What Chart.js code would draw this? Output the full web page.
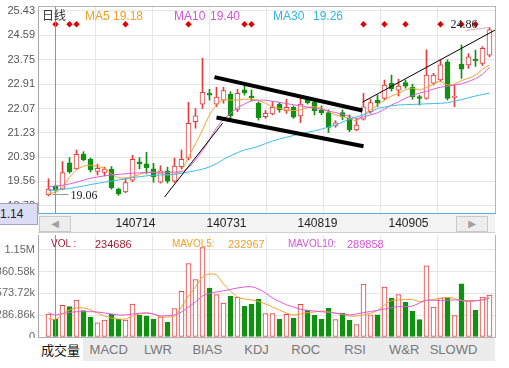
<!DOCTYPE html>
<html>
<head>
<meta charset="utf-8">
<title>日线</title>
<script src="https://cdn.jsdelivr.net/npm/chart.js@4.4.1/dist/chart.umd.min.js"></script>
<style>
body { margin: 0; background: #fff; font-family: "Liberation Sans", Arial, sans-serif; }
#wrap { position: relative; width: 509px; height: 368px; overflow: hidden; }
canvas { position: absolute; left: 0; z-index: 1; }
#price { top: 0; }
#vol { top: 233px; }
.t { position: absolute; z-index: 2; white-space: nowrap; font-size: 12px; line-height: 14px; }
.v { font-size: 10px; }
.n { font-size: 11px; }
#strip { position: absolute; left: 38px; top: 214px; width: 457px; height: 18px; background: #f3f3f3; border-bottom: 1px solid #cfcfcf; }
.btn { position: absolute; top: 216px; width: 30px; height: 14px; background: #ededed; border: 1px solid #c8c8c8; color: #a0a0a0; font-size: 10px; line-height: 14px; text-align: center; z-index: 2; font-family: "DejaVu Sans", sans-serif; }
#cur { position: absolute; left: -1px; top: 203px; width: 37px; height: 20px; background: #dcdcf6; border: 1px solid #9ea2c6; font-size: 12px; line-height: 20px; color: #222; z-index: 3; }
#tabs { position: absolute; left: 38px; top: 338px; width: 457px; height: 23px; background: #ececec; }
.tab { position: absolute; top: 338px; height: 23px; line-height: 23px; text-align: center; font-size: 13px; color: #777; z-index: 2; }
.tab.on { background: #fff; color: #111; font-family: "Noto Sans CJK SC", sans-serif; }
</style>
</head>
<body>
<div id="wrap">
  <div id="strip"></div>
  <canvas id="price" width="509" height="233"></canvas>
  <canvas id="vol" width="509" height="105"></canvas>
  <div id="tabs"></div>
  <div class="btn" style="left:39px">◀</div>
  <div class="btn" style="left:456px">▶</div>
  <div id="cur">1.14</div>

  <span class="t" style="left:42px;top:8px;color:#333;font-family:'Noto Sans CJK SC',sans-serif">日线</span>
  <span class="t" style="left:85px;top:9px;color:#f0a028">MA5</span>
  <span class="t" id="ma5v" style="left:113px;top:9px;color:#f0a028"></span>
  <span class="t" style="left:174px;top:9px;color:#d455d4">MA10</span>
  <span class="t" id="ma10v" style="left:210px;top:9px;color:#d455d4"></span>
  <span class="t" style="left:273px;top:9px;color:#35b5e0">MA30</span>
  <span class="t" id="ma30v" style="left:313px;top:9px;color:#35b5e0"></span>

  <span class="t v" style="left:51px;top:237px;color:#a01e32">VOL :</span>
  <span class="t n" id="volv" style="left:95px;top:237px;color:#a01e32"></span>
  <span class="t v" style="left:172px;top:237px;color:#f0a028">MAVOL5:</span>
  <span class="t n" id="mv5v" style="left:228px;top:237px;color:#f0a028"></span>
  <span class="t v" style="left:288px;top:237px;color:#d455d4">MAVOL10:</span>
  <span class="t n" id="mv10v" style="left:347px;top:237px;color:#d455d4"></span>
</div>

<script>
// daily candles, 64 trading days
const opens  = [19.09,19.39,19.29,20.20,19.99,20.49,20.32,19.90,19.87,19.98, 19.29,19.20,19.60,20.23,20.16,19.99,19.53,19.92,19.57,20.07,
                20.36,21.62,22.22,22.60,22.22,22.36,22.57,22.04,22.71,22.50, 22.25,21.79,21.88,22.22,21.99,22.11,21.81,22.39,22.30,22.02,
                21.93,21.47,21.93,21.73,21.33,21.70,21.96,22.36,22.42,22.94, 22.70,22.96,22.80,22.48,22.42,22.94,23.05,23.68,22.45,23.60,
                23.57,23.77,23.62,23.91];
const closes = [19.29,19.26,19.86,19.89,20.49,20.30,19.95,20.01,19.98,19.34, 19.13,19.52,20.32,20.17,20.03,19.72,19.92,19.57,20.09,20.32,
                21.56,21.82,22.63,22.53,22.46,22.69,21.82,22.59,22.61,22.44, 21.75,21.90,22.11,22.02,22.11,21.77,22.22,22.27,21.99,21.93,
                21.42,21.58,21.79,21.33,21.50,22.13,22.27,22.27,22.88,22.74, 22.84,22.84,22.48,22.42,23.22,23.22,23.57,22.42,22.50,23.42,
                23.85,23.71,24.14,24.78];
const highs  = [19.65,19.44,20.24,20.38,20.64,20.58,20.36,20.15,20.05,20.07, 19.33,19.68,20.46,20.38,20.56,20.18,20.10,20.05,20.36,20.64,
                22.28,22.07,23.80,22.73,22.80,22.80,22.65,22.73,22.84,22.71, 22.30,22.00,22.30,22.28,22.39,22.16,22.42,22.48,22.36,22.16,
                22.02,21.65,22.02,21.85,21.73,22.59,22.39,22.53,23.05,23.22, 23.08,23.05,22.91,22.53,24.09,23.28,23.74,23.74,22.88,24.26,
                23.96,24.08,24.20,24.86];
const lows   = [19.06,19.20,19.27,19.84,19.97,20.27,19.88,19.78,19.75,19.29, 19.08,19.17,19.54,19.99,19.82,19.53,19.50,19.50,19.52,20.00,
                20.30,21.39,22.07,22.36,22.13,22.25,21.67,21.96,22.53,22.34, 21.67,21.73,21.85,21.94,21.90,21.73,21.58,22.22,21.85,21.85,
                21.24,21.42,21.68,21.27,21.30,21.67,21.90,22.13,22.36,22.67, 22.50,22.77,22.39,22.19,22.39,22.88,22.99,22.36,22.13,23.11,
                23.45,23.52,23.55,23.85];
const volumes = [303000,234686,417000,399000,487000,346000,259000,188000,224000,303000, 233000,224000,434000,285000,276000,233000,267000,197000,373000,601000,
                 965000,754000,1175000,645000,557000,447000,535000,526000,404000,430000, 496000,307000,307000,233000,299000,250000,430000,351000,285000,233000,
                 382000,228000,316000,219000,162000,697000,293000,293000,658000,513000, 557000,456000,338000,228000,938000,395000,513000,513000,281000,701000,
                 469000,351000,526000,553000];

// moving averages as drawn
const ma5  = [19.15,19.18,19.35,19.70,19.95,20.08,20.12,20.07,20.01,19.82, 19.69,19.67,19.72,19.80,19.87,19.87,19.83,19.78,19.83,19.95,
              20.41,20.85,21.33,21.85,22.19,22.36,22.36,22.36,22.39,22.39, 22.34,22.25,22.13,22.08,22.02,22.00,22.02,22.11,22.13,22.08,
              21.96,21.85,21.79,21.73,21.65,21.85,22.02,22.19,22.36,22.50, 22.59,22.71,22.77,22.71,22.80,22.91,23.00,22.88,22.91,23.03,
              23.11,23.22,23.42,23.57];
const ma10 = [19.38,19.40,19.43,19.47,19.53,19.60,19.67,19.71,19.75,19.78, 19.80,19.82,19.84,19.85,19.87,19.87,19.87,19.87,19.88,19.89,
              20.03,20.30,20.62,21.00,21.40,21.70,21.90,22.10,22.22,22.33, 22.36,22.35,22.32,22.28,22.24,22.20,22.16,22.12,22.08,22.04,
              21.98,21.93,21.87,21.80,21.73,21.78,21.85,21.92,22.05,22.19, 22.30,22.42,22.52,22.60,22.66,22.74,22.80,22.84,22.88,22.92,
              23.00,23.10,23.25,23.49];
const ma30 = [19.24,19.26,19.29,19.31,19.36,19.40,19.45,19.49,19.53,19.57, 19.61,19.64,19.69,19.72,19.75,19.77,19.78,19.79,19.80,19.84,
              19.88,19.93,19.98,20.06,20.17,20.32,20.44,20.55,20.64,20.70, 20.77,20.86,20.95,21.02,21.08,21.14,21.20,21.25,21.30,21.36,
              21.43,21.50,21.60,21.70,21.78,21.85,21.95,22.07,22.12,22.16, 22.19,22.20,22.21,22.22,22.23,22.24,22.25,22.27,22.32,22.38,
              22.44,22.50,22.55,22.60];
const mavol5  = [240000,232967,303000,355000,382000,382000,355000,316000,276000,250000, 237000,237000,276000,303000,316000,303000,263000,263000,276000,395000,
                 540000,658000,790000,829000,816000,697000,605000,526000,500000,487000, 467000,434000,395000,355000,316000,290000,303000,320000,329000,342000,
                 329000,316000,296000,276000,276000,290000,312000,349000,421000,478000, 487000,492000,493000,467000,480000,493000,509000,522000,507000,480000,
                 467000,474000,493000,530000];
const mavol10 = [320000,289858,309000,322000,333000,333000,333000,329000,316000,303000, 290000,290000,303000,312000,316000,303000,276000,283000,290000,329000,
                 395000,461000,540000,572000,592000,609000,625000,645000,658000,662000, 632000,579000,513000,467000,424000,395000,364000,351000,342000,332000,
                 325000,312000,303000,290000,303000,320000,336000,351000,368000,386000, 399000,401000,408000,447000,484000,483000,480000,484000,487000,480000,
                 478000,478000,487000,509000];

// signal diamonds (candle index) and hand-drawn lines [x0, y0, x1, y1]
const diamondIdx = [1,3,4,11,20,28,29,45,48,51,56,59,61];
const markLevel = 24.97;
const thinLines  = [[16.57,19.02,24.86,21.56],[44.86,22.29,63.79,24.77]];
const thickLines = [[23.71,23.15,44.86,22.00],[24.0,21.76,45.0,20.77]];

// axes
const priceTicks = [18.72,19.56,20.39,21.23,22.07,22.91,23.75,24.59,25.43];
const volTicks = [0,286860,573720,860580,1147440];
const dateIdx = [12,25,38,51];
const dateText = ['140714','140731','140819','140905'];
const tabNames = ['成交量','MACD','LWR','BIAS','KDJ','ROC','RSI','W&R','SLOWD'];
const crossIdx = 1;

const upColor = '#e63c3c', downColor = '#119011';
const gridColor = '#e6e6e6';
const xMin = -1.5, xMax = 63.786;
const idx = opens.map((_, i) => i);
const isUp = i => closes[i] >= opens[i];
const pts = arr => arr.map((v, i) => ({x: i, y: v}));

document.getElementById('ma5v').textContent = ma5[crossIdx].toFixed(2);
document.getElementById('ma10v').textContent = ma10[crossIdx].toFixed(2);
document.getElementById('ma30v').textContent = ma30[crossIdx].toFixed(2);
document.getElementById('volv').textContent = volumes[crossIdx];
document.getElementById('mv5v').textContent = mavol5[crossIdx];
document.getElementById('mv10v').textContent = mavol10[crossIdx];

const wrap = document.getElementById('wrap');
tabNames.forEach((name, k) => {
  const d = document.createElement('div');
  d.className = 'tab' + (k === 0 ? ' on' : '');
  d.style.left = (k === 0 ? 38 : 35 + k * 49.25) + 'px';
  d.style.width = (k === 0 ? 45 : 49) + 'px';
  d.textContent = name;
  wrap.appendChild(d);
});

Chart.defaults.font.family = '"Liberation Sans", Arial, sans-serif';

function gridAxis(border) {
  return {
    type: 'linear', min: xMin, max: xMax, offset: false,
    afterBuildTicks: s => { s.ticks = [1,2,3,4,5,6,7].map(k => ({value: xMin + k * (xMax - xMin) / 8})); },
    afterFit: s => { s.height = 0; s.paddingLeft = 0; s.paddingRight = 0; },
    ticks: { display: false },
    grid: { color: gridColor, drawTicks: false, offset: false },
    border: border
  };
}

const frame = {
  id: 'frame',
  afterDatasetsDraw(chart) {
    const {ctx, chartArea: a} = chart;
    const cx = chart.scales.x.getPixelForValue(crossIdx);
    ctx.save();
    ctx.lineWidth = 1;
    ctx.strokeStyle = '#4da6dc';
    ctx.beginPath(); ctx.moveTo(cx, a.top); ctx.lineTo(cx, a.bottom); ctx.stroke();
    ctx.strokeStyle = '#b4b4b4';
    ctx.beginPath();
    if (chart.options.drawTop) { ctx.moveTo(a.left, a.top + 0.5); ctx.lineTo(a.right, a.top + 0.5); }
    ctx.moveTo(a.right + 0.5, a.top); ctx.lineTo(a.right + 0.5, a.bottom);
    ctx.stroke();
    ctx.restore();
  }
};

const extremes = {
  id: 'extremes',
  afterDatasetsDraw(chart) {
    const {ctx, scales: {x, y}} = chart;
    const lo = lows.indexOf(Math.min(...lows));
    const hi = highs.indexOf(Math.max(...highs));
    ctx.save();
    ctx.font = '12px "Liberation Serif", serif';
    ctx.fillStyle = '#222';
    ctx.lineWidth = 1;
    ctx.textBaseline = 'middle';
    let px = x.getPixelForValue(lo), py = Math.round(y.getPixelForValue(lows[lo]));
    ctx.strokeStyle = '#999';
    ctx.beginPath(); ctx.moveTo(px + 4, py - 1.5); ctx.lineTo(px + 20, py - 1.5); ctx.stroke();
    ctx.textAlign = 'left';
    ctx.fillText(lows[lo].toFixed(2), px + 22, py);
    px = x.getPixelForValue(hi); py = y.getPixelForValue(highs[hi]);
    ctx.strokeStyle = '#e0a8b4';
    ctx.beginPath(); ctx.moveTo(px - 24, py + 3); ctx.lineTo(px, py); ctx.stroke();
    ctx.textAlign = 'right';
    ctx.fillText(highs[hi].toFixed(2), px - 12, py - 3);
    ctx.restore();
  }
};

const lineSet = (arr, color) => ({
  type: 'line', data: pts(arr), borderColor: color, borderWidth: 1,
  pointRadius: 0, tension: 0.3, order: 3
});

new Chart(document.getElementById('price'), {
  type: 'bar',
  data: {
    datasets: [
      { type: 'bar', order: 6, grouped: false, barThickness: 1,
        data: idx.map(i => ({x: i, y: [lows[i], highs[i]]})),
        backgroundColor: idx.map(i => isUp(i) ? upColor : downColor), borderWidth: 0 },
      { type: 'bar', order: 5, grouped: false, barThickness: 5, minBarLength: 1,
        data: idx.map(i => ({x: i, y: [opens[i], closes[i]]})),
        backgroundColor: idx.map(i => isUp(i) ? '#fff' : downColor),
        borderColor: idx.map(i => isUp(i) ? upColor : downColor),
        borderWidth: 1, borderSkipped: false },
      lineSet(ma30, '#3dbbe6'),
      lineSet(ma10, '#dc5cdc'),
      lineSet(ma5, '#f2a230'),
      ...thickLines.map(l => ({ type: 'line', order: 2, data: [{x: l[0], y: l[1]}, {x: l[2], y: l[3]}],
        borderColor: '#000', borderWidth: 4, pointRadius: 0 })),
      ...thinLines.map(l => ({ type: 'line', order: 2, data: [{x: l[0], y: l[1]}, {x: l[2], y: l[3]}],
        borderColor: '#000', borderWidth: 1, pointRadius: 0 })),
      { type: 'line', order: 1, showLine: false, data: diamondIdx.map(i => ({x: i, y: markLevel})),
        pointStyle: 'rectRot', pointRadius: 3.2, pointBackgroundColor: '#e00000', pointBorderWidth: 0 }
    ]
  },
  options: {
    responsive: false, animation: false, devicePixelRatio: 1, events: [],
    drawTop: true,
    layout: { padding: { left: 0, right: 14, top: 6, bottom: 0 } },
    plugins: { legend: { display: false }, tooltip: { enabled: false } },
    scales: {
      x: gridAxis({ display: false }),
      xl: {
        type: 'linear', position: 'bottom', min: xMin, max: xMax, offset: false,
        afterBuildTicks: s => { s.ticks = dateIdx.map(v => ({value: v})); },
        afterFit: s => { s.height = 20; s.paddingLeft = 0; s.paddingRight = 0; },
        ticks: { callback: v => dateText[dateIdx.indexOf(v)], color: '#222', font: { size: 12 },
                 padding: 3, labelOffset: 3, autoSkip: false, maxRotation: 0 },
        grid: { display: false, drawTicks: false, offset: false },
        border: { display: true, color: '#5aaee0' }
      },
      y: {
        min: 18.47, max: 25.60,
        afterBuildTicks: s => { s.ticks = priceTicks.map(v => ({value: v})); },
        afterFit: s => { s.width = 38; s.paddingTop = 0; s.paddingBottom = 0; },
        ticks: { callback: v => v.toFixed(2), color: '#555', font: { size: 11 }, padding: 3, autoSkip: false },
        grid: { color: gridColor, drawTicks: false },
        border: { color: '#a8a8a8' }
      }
    }
  },
  plugins: [frame, extremes]
});

new Chart(document.getElementById('vol'), {
  type: 'bar',
  data: {
    datasets: [
      { type: 'bar', order: 5, grouped: false, barThickness: 5,
        data: idx.map(i => ({x: i, y: volumes[i]})),
        backgroundColor: idx.map(i => isUp(i) ? '#fff' : downColor),
        borderColor: idx.map(i => isUp(i) ? upColor : downColor),
        borderWidth: 1, borderSkipped: false },
      lineSet(mavol10, '#dc5cdc'),
      lineSet(mavol5, '#f2a230')
    ]
  },
  options: {
    responsive: false, animation: false, devicePixelRatio: 1, events: [],
    layout: { padding: { left: 0, right: 14, top: 2, bottom: 1 } },
    plugins: { legend: { display: false }, tooltip: { enabled: false } },
    scales: {
      x: gridAxis({ display: true, color: '#b0b0b0' }),
      y: {
        min: 0, max: 1342000,
        afterBuildTicks: s => { s.ticks = volTicks.map(v => ({value: v})); },
        afterFit: s => { s.width = 38; s.paddingTop = 0; s.paddingBottom = 0; },
        ticks: {
          callback: v => v >= 1e6 ? (v / 1e6).toFixed(2) + 'M' : v > 0 ? (v / 1000).toFixed(2) + 'k' : '0',
          color: '#666', font: { size: 11 }, padding: 3, autoSkip: false
        },
        grid: { color: gridColor, drawTicks: false },
        border: { color: '#a8a8a8' }
      }
    }
  },
  plugins: [frame]
});
</script>
</body>
</html>
